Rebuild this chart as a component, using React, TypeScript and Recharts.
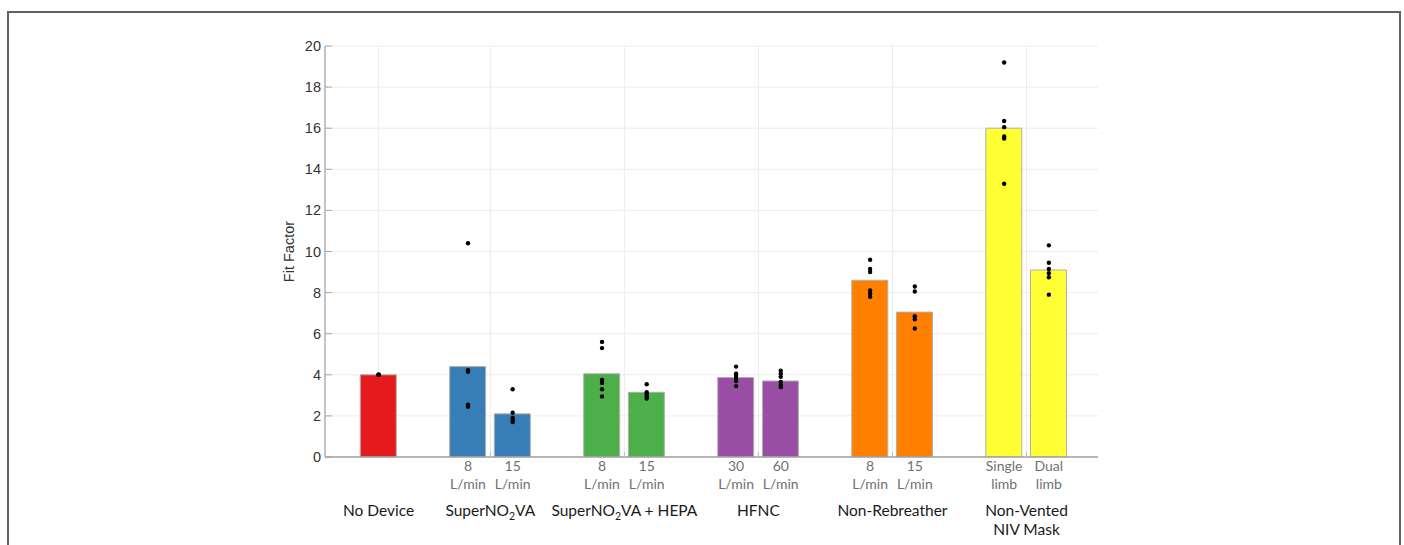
import React from 'react';
import { ComposedChart, Bar, Scatter, XAxis, YAxis, CartesianGrid, Cell } from 'recharts';

// x positions of individual bars (numeric axis units)
const barX = [0, 2, 3, 5, 6, 8, 9, 11, 12, 14, 15];
// mean Fit Factor per bar
const barValues = [4.0, 4.4, 2.1, 4.05, 3.15, 3.87, 3.7, 8.6, 7.05, 16.0, 9.1];
const barColors = [
  '#e41a1c', '#377eb8', '#377eb8', '#4daf4a', '#4daf4a',
  '#984ea3', '#984ea3', '#ff7f00', '#ff7f00', '#ffff33', '#ffff33',
];
const subLabelTop = ['', '8', '15', '8', '15', '30', '60', '8', '15', 'Single', 'Dual'];
const subLabelBottom = ['', 'L/min', 'L/min', 'L/min', 'L/min', 'L/min', 'L/min', 'L/min', 'L/min', 'limb', 'limb'];

// individual measurements per bar
const dotValues = [
  [4.0, 4.0, 4.0],
  [10.4, 4.22, 4.15, 2.55, 2.45],
  [3.3, 2.15, 1.9, 1.8, 1.7],
  [5.6, 5.3, 3.75, 3.6, 3.3, 2.95],
  [3.54, 3.15, 3.05, 2.95, 2.85],
  [4.4, 4.05, 3.95, 3.85, 3.7, 3.45],
  [4.2, 4.05, 3.9, 3.65, 3.5, 3.4],
  [9.6, 9.15, 9.0, 8.1, 7.95, 7.8],
  [8.3, 8.05, 6.85, 6.7, 6.25],
  [19.2, 16.35, 16.05, 15.6, 15.5, 13.3],
  [10.3, 9.45, 9.15, 8.95, 8.75, 7.9],
];

const groupCenters = [0, 2.5, 5.5, 8.5, 11.5, 14.5];
const groupLabels = ['No Device', 'SuperNO2VA', 'SuperNO2VA + HEPA', 'HFNC', 'Non-Rebreather', 'Non-Vented\nNIV Mask'];

const yTicks = [0, 2, 4, 6, 8, 10, 12, 14, 16, 18, 20];

const barData = barX.map((x, i) => ({ x, value: barValues[i] }));
const dotData = dotValues.flatMap((vals, i) => vals.map((y) => ({ x: barX[i], y })));
const xTicks = Array.from(new Set([...barX, ...groupCenters])).sort((a, b) => a - b);

const LABEL_FONT = 'Lato, "Open Sans", sans-serif';
const AXIS_FONT = '"Liberation Sans", Arial, sans-serif';

function renderGroupText(label: string, x: number, y: number, key: string) {
  const lines = label.split('\n');
  return lines.map((line, li) => {
    const parts = line.split('NO2');
    let content: React.ReactNode = line;
    if (parts.length > 1) {
      content = (
        <>
          <tspan>{parts[0] + 'NO'}</tspan>
          <tspan fontSize={10.5} dy={4}>2</tspan>
          <tspan dy={-4}>{parts[1]}</tspan>
        </>
      );
    }
    return (
      <text
        key={key + li}
        x={x}
        y={y + li * 19}
        textAnchor="middle"
        fontFamily={LABEL_FONT}
        fontSize={15.5}
        fill="#1a1a1a"
      >
        {content}
      </text>
    );
  });
}

const XTick = (props: any) => {
  const { x, y, payload } = props;
  const v = payload.value;
  const bi = barX.indexOf(v);
  const gi = groupCenters.indexOf(v);
  return (
    <g>
      {gi > 0 && <line x1={x} x2={x} y1={y} y2={y - 5} stroke="#bbb" strokeWidth={1} />}
      {bi >= 0 && subLabelTop[bi] !== '' && (
        <>
          <text x={x} y={y + 14} textAnchor="middle" fontFamily={LABEL_FONT} fontSize={14} fill="#707070">
            {subLabelTop[bi]}
          </text>
          <text x={x} y={y + 32} textAnchor="middle" fontFamily={LABEL_FONT} fontSize={14} fill="#707070">
            {subLabelBottom[bi]}
          </text>
        </>
      )}
      {gi >= 0 && renderGroupText(groupLabels[gi], x, y + 59, 'g' + gi)}
    </g>
  );
};

const YTick = (props: any) => {
  const { x, y, payload } = props;
  return (
    <g>
      <line x1={x + 4} x2={x + 11} y1={y} y2={y} stroke="#aaa" strokeWidth={1} />
      <text x={x} y={y} dy={5} textAnchor="end" fontFamily={AXIS_FONT} fontSize={14.5} fill="#333">
        {payload.value}
      </text>
    </g>
  );
};

const Dot = (props: any) => {
  const { cx, cy } = props;
  return <circle cx={cx} cy={cy} r={2.2} fill="#000" />;
};

export default function App() {
  return (
    <div style={{ position: 'absolute', left: 0, top: 0, width: 1404, height: 545, overflow: 'hidden', background: '#fff' }}>
      <div
        style={{
          position: 'absolute', left: 7, top: 11, width: 1394, height: 600,
          border: '2px solid #616161', boxSizing: 'border-box',
        }}
      />
      <div style={{ position: 'absolute', left: 0, top: 0 }}>
        <ComposedChart
          width={1404}
          height={545}
          data={barData}
          margin={{ top: 46, right: 306, bottom: 8, left: 265 }}
        >
          <CartesianGrid stroke="#ececec" verticalValues={groupCenters} />
          <XAxis
            type="number"
            dataKey="x"
            domain={[-1.2, 16.1]}
            allowDataOverflow
            ticks={xTicks}
            interval={0}
            tick={<XTick />}
            tickLine={false}
            tickSize={0}
            tickMargin={0}
            height={80}
            axisLine={{ stroke: '#a0a0a0', strokeWidth: 1.5 }}
          />
          <YAxis
            type="number"
            domain={[0, 20]}
            allowDataOverflow
            ticks={yTicks}
            interval={0}
            width={60}
            tick={<YTick />}
            tickLine={false}
            tickSize={0}
            tickMargin={4}
            axisLine={{ stroke: '#b0b0b0', strokeWidth: 1.5 }}
            label={{
              content: (p: any) => {
                const vb = p.viewBox;
                const cx = vb.x + 29;
                const cy = vb.y + vb.height / 2;
                return (
                  <text
                    x={cx}
                    y={cy}
                    transform={`rotate(-90 ${cx} ${cy})`}
                    textAnchor="middle"
                    fontFamily={AXIS_FONT}
                    fontSize={14.5}
                    fill="#333"
                  >
                    Fit Factor
                  </text>
                );
              },
            }}
          />
          <Bar dataKey="value" barSize={36} isAnimationActive={false} stroke="#b0b0b0" strokeWidth={1}>
            {barData.map((d, i) => (
              <Cell key={i} fill={barColors[i]} />
            ))}
          </Bar>
          <Scatter data={dotData} dataKey="y" shape={<Dot />} isAnimationActive={false} />
        </ComposedChart>
      </div>
    </div>
  );
}
